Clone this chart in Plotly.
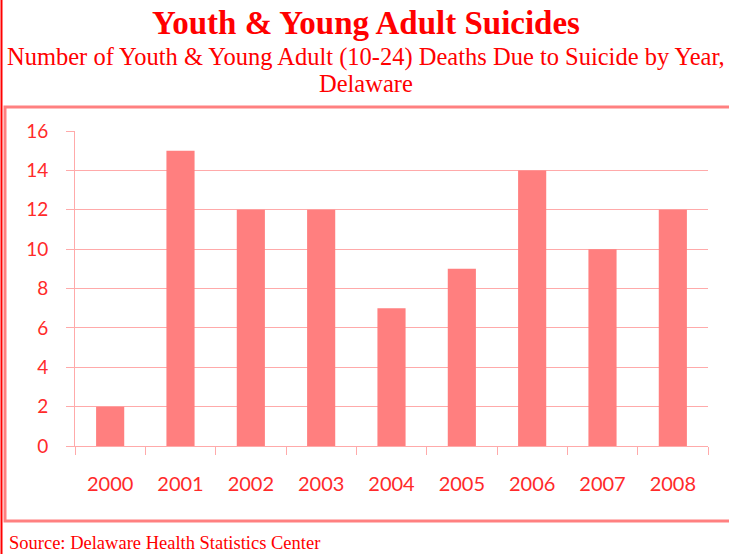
import plotly.graph_objects as go

years = ["2000", "2001", "2002", "2003", "2004", "2005", "2006", "2007", "2008"]
deaths = [2, 15, 12, 12, 7, 9, 14, 10, 12]
y_ticks = [0, 2, 4, 6, 8, 10, 12, 14, 16]

W, H = 729, 554
L, R, T, B = 75, 21, 131, 108
pw, ph = W - L - R, H - T - B


def px(x):
    return (x - L) / pw


def py(y):
    return (H - B - y) / ph


bar_col = "#ff7f7f"
grid_col = "#ffaaaa"
red = "#ff0000"
tick_red = "#ff2a2a"

fig = go.Figure()
fig.add_trace(go.Bar(x=years, y=deaths, marker=dict(color=bar_col, line=dict(width=0)),
                     width=0.4, hoverinfo="x+y"))

fig.update_layout(
    width=W, height=H,
    margin=dict(l=L, r=R, t=T, b=B),
    paper_bgcolor="white", plot_bgcolor="white",
    showlegend=False,
    title=dict(text="<b>Youth &amp; Young Adult Suicides</b>", x=px(366), xref="paper",
               xanchor="center", y=1 - 22 / H, yanchor="middle",
               font=dict(family="Liberation Serif", size=33, color=red)),
)

fig.update_xaxes(
    type="category", showgrid=False, showline=True, linecolor=grid_col, linewidth=1,
    ticks="outside", tickson="boundaries", ticklen=8, tickcolor=grid_col,
    ticklabelstandoff=20,
    tickfont=dict(family="Lato", size=20, color=tick_red),
)
fig.update_yaxes(
    range=[0, 16], tickvals=y_ticks, showgrid=True, gridcolor=grid_col, gridwidth=1,
    showline=True, linecolor=grid_col, linewidth=1,
    ticks="outside", ticklen=8, tickcolor=grid_col, ticklabelstandoff=14,
    tickfont=dict(family="Lato", size=19, color=tick_red), zeroline=False,
)

# subtitle lines and source
fig.add_annotation(text="Number of Youth &amp; Young Adult (10-24) Deaths Due to Suicide by Year,",
                   xref="paper", yref="paper", x=px(366), y=py(57), showarrow=False,
                   xanchor="center", yanchor="middle",
                   font=dict(family="Liberation Serif", size=24.5, color=red))
fig.add_annotation(text="Delaware", xref="paper", yref="paper", x=px(366), y=py(83),
                   showarrow=False, xanchor="center", yanchor="middle",
                   font=dict(family="Liberation Serif", size=24.5, color=red))
fig.add_annotation(text="Source: Delaware Health Statistics Center", xref="paper", yref="paper",
                   x=px(7), y=py(543), showarrow=False, xanchor="left", yanchor="middle",
                   font=dict(family="Liberation Serif", size=18.5, color=red))

# chart frame and left rule
fig.add_shape(type="rect", xref="paper", yref="paper", x0=px(5), x1=px(740), y0=py(521), y1=py(107),
              line=dict(color="#ff8080", width=3), layer="below")
fig.add_shape(type="line", xref="paper", yref="paper", x0=px(1.5), x1=px(1.5), y0=py(-5), y1=py(H + 5),
              line=dict(color=red, width=2))

fig.write_html("out.html", config={"displayModeBar": False},
               post_script="document.body.style.margin='0';")
